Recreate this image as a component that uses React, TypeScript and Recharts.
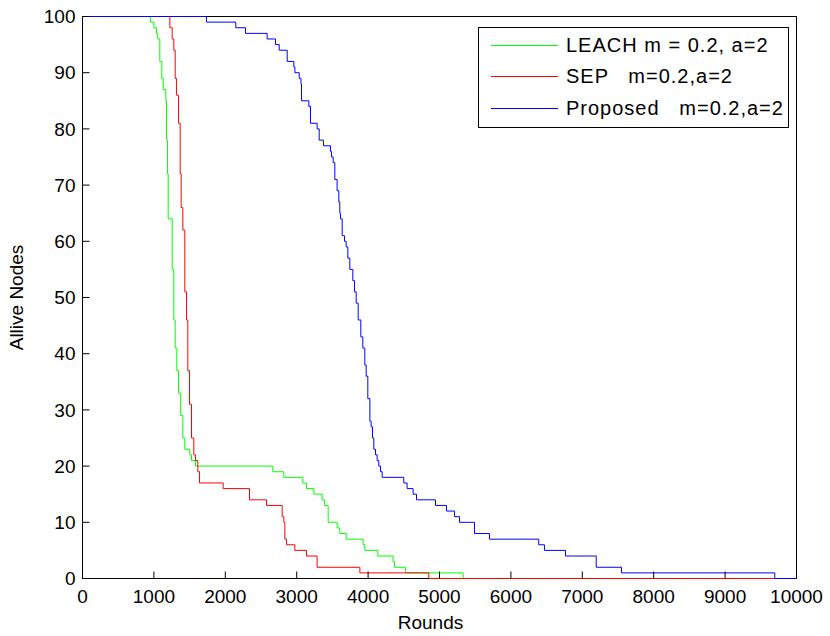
import { LineChart, Line, XAxis, YAxis, Legend } from "recharts";

// step points: the value holds from each round until the next one
const leachRounds = [
  0, 950, 1000, 1036, 1054, 1083, 1111, 1131, 1167, 1176, 1190, 1200, 1256,
  1279, 1298, 1321, 1345, 1375, 1405, 1433, 1503, 1527, 1583, 2665, 2820, 3086,
  3137, 3240, 3355, 3389, 3441, 3566, 3604, 3693, 3930, 3953, 4136, 4350, 4370,
  4524, 5331, 10000,
];
const leachAlive = [
  100, 99, 98, 97, 96, 92, 89, 87, 85, 78, 72, 64, 55, 46, 41, 37, 33, 29, 25,
  23, 22, 21, 20, 19, 18, 17, 16, 15, 14, 13, 10, 9, 8, 7, 6, 5, 4, 3, 2, 1, 0,
  0,
];

const sepRounds = [
  0, 1223, 1256, 1279, 1298, 1316, 1345, 1368, 1382, 1405, 1433, 1457, 1475,
  1499, 1527, 1559, 1583, 1615, 1639, 1970, 2339, 2577, 2797, 2820, 2834, 2857,
  2974, 3137, 3286, 3885, 4850, 10000,
];
const sepAlive = [
  100, 98, 96, 94, 89, 86, 81, 72, 66, 62, 51, 46, 37, 31, 25, 22, 21, 19, 17,
  16, 14, 13, 11, 10, 7, 6, 5, 4, 2, 1, 0, 0,
];

const proposedRounds = [
  0, 1737, 2147, 2283, 2586, 2703, 2755, 2867, 2960, 2975, 3035, 3060, 3067,
  3170, 3193, 3286, 3315, 3375, 3473, 3487, 3511, 3534, 3566, 3590, 3604, 3613,
  3637, 3670, 3693, 3716, 3744, 3786, 3810, 3833, 3861, 3898, 3926, 3954, 3973,
  3996, 4025, 4042, 4062, 4080, 4104, 4127, 4150, 4174, 4197, 4500, 4546, 4630,
  4678, 4944, 5098, 5210, 5280, 5490, 5700, 6390, 6470, 6765, 7195, 7549, 9696,
  10000,
];
const proposedAlive = [
  100, 99, 98, 97, 96, 95, 94, 92, 91, 90, 89, 88, 85, 84, 81, 80, 78, 77, 76,
  75, 74, 71, 69, 67, 65, 64, 61, 60, 59, 57, 55, 53, 51, 49, 46, 43, 41, 38,
  36, 32, 28, 27, 25, 23, 22, 21, 20, 19, 18, 17, 16, 15, 14, 13, 12, 11, 10, 8,
  7, 6, 5, 4, 2, 1, 0, 0,
];

const xTicks = [0, 1000, 2000, 3000, 4000, 5000, 6000, 7000, 8000, 9000, 10000];
const yTicks = [0, 10, 20, 30, 40, 50, 60, 70, 80, 90, 100];

const seriesNames = ["LEACH m = 0.2, a=2", "SEP   m=0.2,a=2", "Proposed   m=0.2,a=2"];
const seriesColors = ["#00ff00", "#ff0000", "#0000ff"];

const toPoints = (xs: number[], ys: number[]) =>
  xs.map((x, i) => ({ x, y: ys[i] }));

const leachData = toPoints(leachRounds, leachAlive);
const sepData = toPoints(sepRounds, sepAlive);
const proposedData = toPoints(proposedRounds, proposedAlive);

const font = "'Liberation Sans', Arial, sans-serif";
const tickStyle = { fill: "#000", fontSize: 19, fontFamily: font };

const rowTops = [18, 49, 81];

const LegendBox = () => (
  <div
    style={{
      position: "relative",
      width: 311,
      height: 101,
      boxSizing: "border-box",
      border: "1px solid #000",
      background: "#fff",
      fontFamily: font,
      fontSize: 20,
      color: "#000",
    }}
  >
    <svg
      width={311}
      height={101}
      style={{ position: "absolute", left: -1, top: -1 }}
    >
      {seriesNames.map((name, i) => (
        <line
          key={name}
          x1={13}
          x2={80}
          y1={rowTops[i] + 0.5}
          y2={rowTops[i] + 0.5}
          stroke={seriesColors[i]}
          strokeWidth={1}
        />
      ))}
    </svg>
    {seriesNames.map((name, i) => (
      <div
        key={name}
        style={{
          position: "absolute",
          left: 87,
          top: rowTops[i] - 11,
          lineHeight: "20px",
          whiteSpace: "pre",
          letterSpacing: 1,
        }}
      >
        {name}
      </div>
    ))}
  </div>
);

export default function App() {
  return (
    <div
      style={{
        position: "absolute",
        left: 0,
        top: 0,
        width: 830,
        height: 636,
        background: "#fff",
      }}
    >
      {/* axes box sits under the chart so the curves can cover its edges */}
      <div
        style={{
          position: "absolute",
          left: 82,
          top: 16,
          width: 715,
          height: 563,
          boxSizing: "border-box",
          border: "1px solid #000",
        }}
      />
      <div style={{ position: "absolute", left: 0, top: 0 }}>
        <LineChart
          width={830}
          height={636}
          margin={{ top: 0.5, right: 0, bottom: 0, left: 0 }}
        >
          <XAxis
            xAxisId="bottom"
            type="number"
            dataKey="x"
            domain={[0, 10000]}
            ticks={xTicks}
            allowDataOverflow
            height={57.5}
            tickSize={-7}
            tickMargin={18}
            tick={tickStyle}
            axisLine={false}
            tickLine={{ stroke: "#000" }}
            label={{
              value: "Rounds",
              position: "insideBottom",
              offset: 7,
              dx: -9,
              style: { fill: "#000", fontSize: 19, fontFamily: font },
            }}
          />
          <XAxis
            xAxisId="top"
            orientation="top"
            type="number"
            domain={[0, 10000]}
            ticks={xTicks}
            height={16}
            tickSize={-7}
            tickFormatter={() => ""}
            axisLine={false}
            tickLine={{ stroke: "#000" }}
          />
          <YAxis
            yAxisId="left"
            type="number"
            domain={[0, 100]}
            ticks={yTicks}
            width={82.5}
            tickSize={-7}
            tickMargin={14}
            tick={tickStyle}
            axisLine={false}
            tickLine={{ stroke: "#000" }}
            label={{
              value: "Allive Nodes",
              angle: -90,
              position: "insideLeft",
              offset: 16,
              style: { fill: "#000", fontSize: 19, fontFamily: font, textAnchor: "middle" },
            }}
          />
          <YAxis
            yAxisId="right"
            orientation="right"
            type="number"
            domain={[0, 100]}
            ticks={yTicks}
            width={33.5}
            tickSize={-7}
            tickFormatter={() => ""}
            axisLine={false}
            tickLine={{ stroke: "#000" }}
          />
          <Legend
            verticalAlign="middle"
            align="center"
            content={() => <LegendBox />}
            wrapperStyle={{ left: 478, top: 27, width: 311, height: 101 }}
          />
          <Line
            xAxisId="bottom"
            yAxisId="left"
            data={leachData}
            dataKey="y"
            type="stepAfter"
            stroke={seriesColors[0]}
            strokeWidth={1}
            dot={false}
            isAnimationActive={false}
          />
          <Line
            xAxisId="bottom"
            yAxisId="left"
            data={sepData}
            dataKey="y"
            type="stepAfter"
            stroke={seriesColors[1]}
            strokeWidth={1}
            dot={false}
            isAnimationActive={false}
          />
          <Line
            xAxisId="bottom"
            yAxisId="left"
            data={proposedData}
            dataKey="y"
            type="stepAfter"
            stroke={seriesColors[2]}
            strokeWidth={1}
            dot={false}
            isAnimationActive={false}
          />
        </LineChart>
      </div>
    </div>
  );
}
